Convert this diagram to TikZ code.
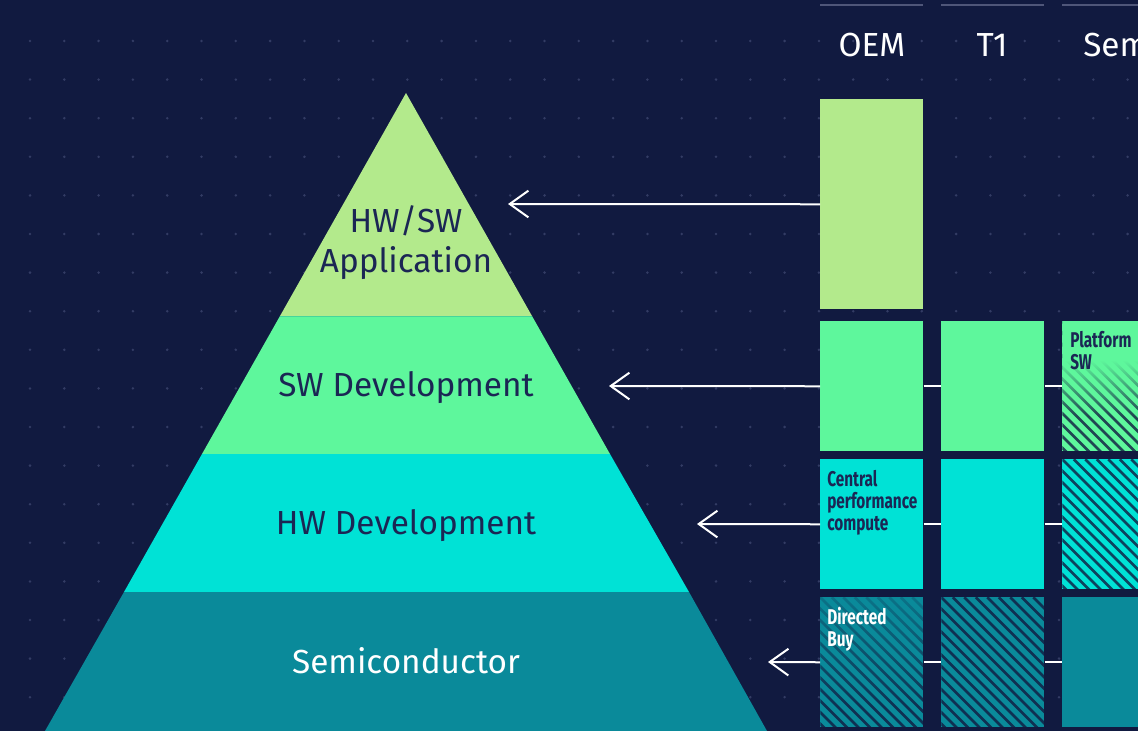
\documentclass[tikz,border=0pt]{standalone}
\usepackage{fontspec}
\setmainfont{Fira Sans}
\newfontfamily\boxfont[FakeStretch=0.72]{Fira Sans}
\usetikzlibrary{arrows.meta,calc,fadings}
\definecolor{bg}{HTML}{111A40}
\definecolor{dotc}{HTML}{333C64}
\definecolor{lgreen}{HTML}{B3EA8C}
\definecolor{mint}{HTML}{5EF79C}
\definecolor{cyanb}{HTML}{00E2D6}
\definecolor{tealb}{HTML}{0A8A9A}
\definecolor{navy}{HTML}{1B2654}
\definecolor{hline}{HTML}{4F5679}
\tikzfading[name=coverdown, top color=transparent!0, bottom color=transparent!100]
\newcommand\mystripes{%
  \foreach \k in {-20,...,12}{
    \draw[bg, line width=2pt, opacity=0.8]
      ($(path picture bounding box.north west)+(\k*11.5,0)$) -- ++(200,200);
  }}
\tikzset{
  pyrtxt/.style={font=\fontsize{25}{30}\selectfont, text=navy, align=center, inner sep=0},
  headtxt/.style={font=\fontsize{25}{28.5}\selectfont, text=white, inner sep=0},
  boxtxt/.style={font=\boxfont\bfseries\fontsize{16}{16.5}\selectfont, text=navy, align=left, inner sep=0, anchor=north west},
  cell/.style={rectangle, inner sep=0, anchor=north west, minimum width=77.25pt, minimum height=97.5pt},
  stripes/.style={path picture={\mystripes}},
  arr/.style={draw=white, line width=1.5pt, -{Straight Barb[length=14pt,width=20pt,line width=1.5pt]}},
  link/.style={draw=white, line width=1.5pt},
  headline/.style={draw=hline, line width=1.2pt}
}
\begin{document}
\begin{tikzpicture}[x=0.75pt,y=-0.75pt]
\clip (0,0) rectangle (1138,731);
\fill[bg] (0,0) rectangle (1138,731);
% dot grid
\foreach \i in {0,...,33}{
  \foreach \j in {0,...,18}{
    \fill[dotc] (30+34.3*\i, 41+38.6*\j) circle (1.4);
  }
}
% pyramid
\fill[lgreen] (406,93) -- (532,316) -- (280,316) -- cycle;
\fill[mint] (280,316) -- (532,316) -- (610,454) -- (202,454) -- cycle;
\fill[cyanb] (202,454) -- (610,454) -- (689,592) -- (124,592) -- cycle;
\fill[tealb] (124,592) -- (689,592) -- (767,731) -- (45,731) -- cycle;
\draw[mint!70!tealb, line width=0.75pt] (280,316) -- (532,316);
\node[pyrtxt] (lay1) at (406,243) {HW/SW\\Application};
\node[pyrtxt, anchor=base] (lay2) at (406,396) {SW Development};
\node[pyrtxt, anchor=base] (lay3) at (406,534) {HW Development};
\node[pyrtxt, anchor=base, text=white] (lay4) at (406,673) {Semiconductor};
% headers
\draw[headline] (820,5) -- (923,5);
\draw[headline] (941,5) -- (1044,5);
\draw[headline] (1062,5) -- (1165,5);
\node[headtxt, anchor=base] (hoem) at (872,57) {OEM};
\node[headtxt, anchor=base] (ht1) at (992,57) {T1};
\node[headtxt, anchor=base west] (hsem) at (1083,57) {Sem};
% cells
\node[cell, fill=lgreen, minimum height=157.5pt] (oem1) at (820,99) {};
\node[cell, fill=mint] (oem2) at (820,321) {};
\node[cell, fill=mint] (t12) at (941,321) {};
\node[cell, fill=mint, path picture={
    \mystripes
    \fill[mint] (path picture bounding box.north west) rectangle ($(path picture bounding box.north east)+(0,40)$);
    \fill[mint, path fading=coverdown] ($(path picture bounding box.north west)+(0,39)$) rectangle ($(path picture bounding box.north east)+(0,95)$);
  }] (sem2) at (1062,321) {};
\node[cell, fill=cyanb] (oem3) at (820,459) {};
\node[cell, fill=cyanb] (t13) at (941,459) {};
\node[cell, fill=cyanb, stripes] (sem3) at (1062,459) {};
\node[cell, fill=tealb, path picture={
    \mystripes
    \fill[tealb, fill opacity=0.75, path fading=coverdown] (path picture bounding box.north west) rectangle ($(path picture bounding box.south east)+(0,-20)$);
  }] (oem4) at (820,597) {};
\node[cell, fill=tealb, stripes] (t14) at (941,597) {};
\node[cell, fill=tealb] (sem4) at (1062,597) {};
% cell texts
\node[boxtxt] (tplat) at ($(sem2.north west)+(8,10)$) {Platform\\SW};
\node[boxtxt] (tcent) at ($(oem3.north west)+(7,11)$) {Central\\performance\\compute};
\node[boxtxt, text=white] (tdir) at ($(oem4.north west)+(7,10)$) {Directed\\Buy};
% arrow targets
\coordinate (tip1) at (508,204);
\coordinate (tip2) at (609,386);
\coordinate (tip3) at (697,524);
\coordinate (tip4) at (768,662);
% arrows
\draw[arr] (oem1.west) -- (tip1);
\draw[arr] (oem2.west) -- (tip2);
\draw[arr] (oem3.west) -- (tip3);
\draw[arr] (oem4.west) -- (tip4);
% links between cells
\draw[link] (oem2.east) -- (t12.west);
\draw[link] (t12.east) -- (sem2.west);
\draw[link] (oem3.east) -- (t13.west);
\draw[link] (t13.east) -- (sem3.west);
\draw[link] (oem4.east) -- (t14.west);
\draw[link] (t14.east) -- (sem4.west);
\end{tikzpicture}
\end{document}
